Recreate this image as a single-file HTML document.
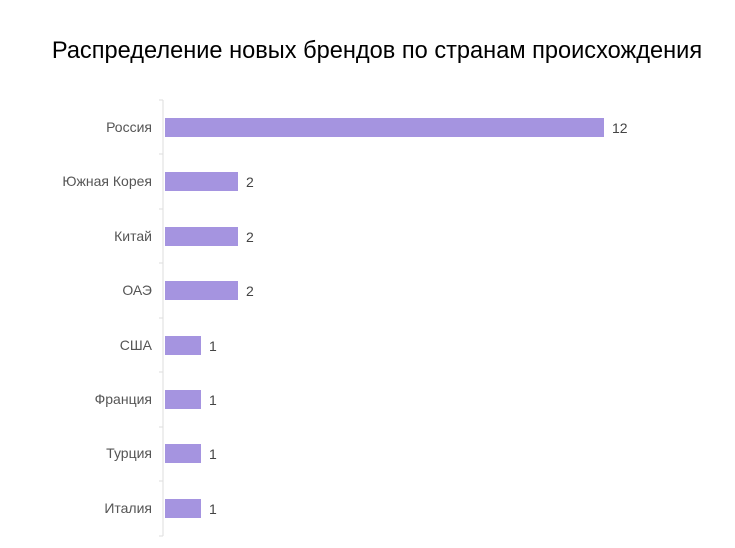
<!DOCTYPE html>
<html><head><meta charset="utf-8"><style>
body{margin:0;background:#fff;width:735px;height:548px;overflow:hidden}
svg{display:block}
</style></head><body>
<svg width="735" height="548" xmlns="http://www.w3.org/2000/svg" font-family="Liberation Sans, DejaVu Sans, sans-serif">
<text x="377" y="58" font-size="23.6" text-anchor="middle" fill="#000">Распределение новых брендов по странам происхождения</text>
<line x1="163" y1="100" x2="163" y2="536" stroke="#ddd" stroke-width="1"/>
<g stroke="#ddd">
<line x1="159" y1="100" x2="163" y2="100"/><line x1="159" y1="154" x2="163" y2="154"/><line x1="159" y1="209" x2="163" y2="209"/><line x1="159" y1="263" x2="163" y2="263"/><line x1="159" y1="318" x2="163" y2="318"/><line x1="159" y1="372" x2="163" y2="372"/><line x1="159" y1="427" x2="163" y2="427"/><line x1="159" y1="481" x2="163" y2="481"/><line x1="159" y1="536" x2="163" y2="536"/>
</g>
<g fill="#a594e0">
<rect x="165" y="118" width="439" height="19"/>
<rect x="165" y="172" width="73" height="19"/>
<rect x="165" y="227" width="73" height="19"/>
<rect x="165" y="281" width="73" height="19"/>
<rect x="165" y="336" width="36" height="19"/>
<rect x="165" y="390" width="36" height="19"/>
<rect x="165" y="444" width="36" height="19"/>
<rect x="165" y="499" width="36" height="19"/>
</g>
<g font-size="14" fill="#555" text-anchor="end">
<text x="152" y="132">Россия</text>
<text x="152" y="186">Южная Корея</text>
<text x="152" y="241">Китай</text>
<text x="152" y="295">ОАЭ</text>
<text x="152" y="350">США</text>
<text x="152" y="404">Франция</text>
<text x="152" y="458">Турция</text>
<text x="152" y="513">Италия</text>
</g>
<g font-size="14" fill="#444">
<text x="612" y="133">12</text>
<text x="246" y="187">2</text>
<text x="246" y="242">2</text>
<text x="246" y="296">2</text>
<text x="209" y="351">1</text>
<text x="209" y="405">1</text>
<text x="209" y="459">1</text>
<text x="209" y="514">1</text>
</g>
</svg>
</body></html>
